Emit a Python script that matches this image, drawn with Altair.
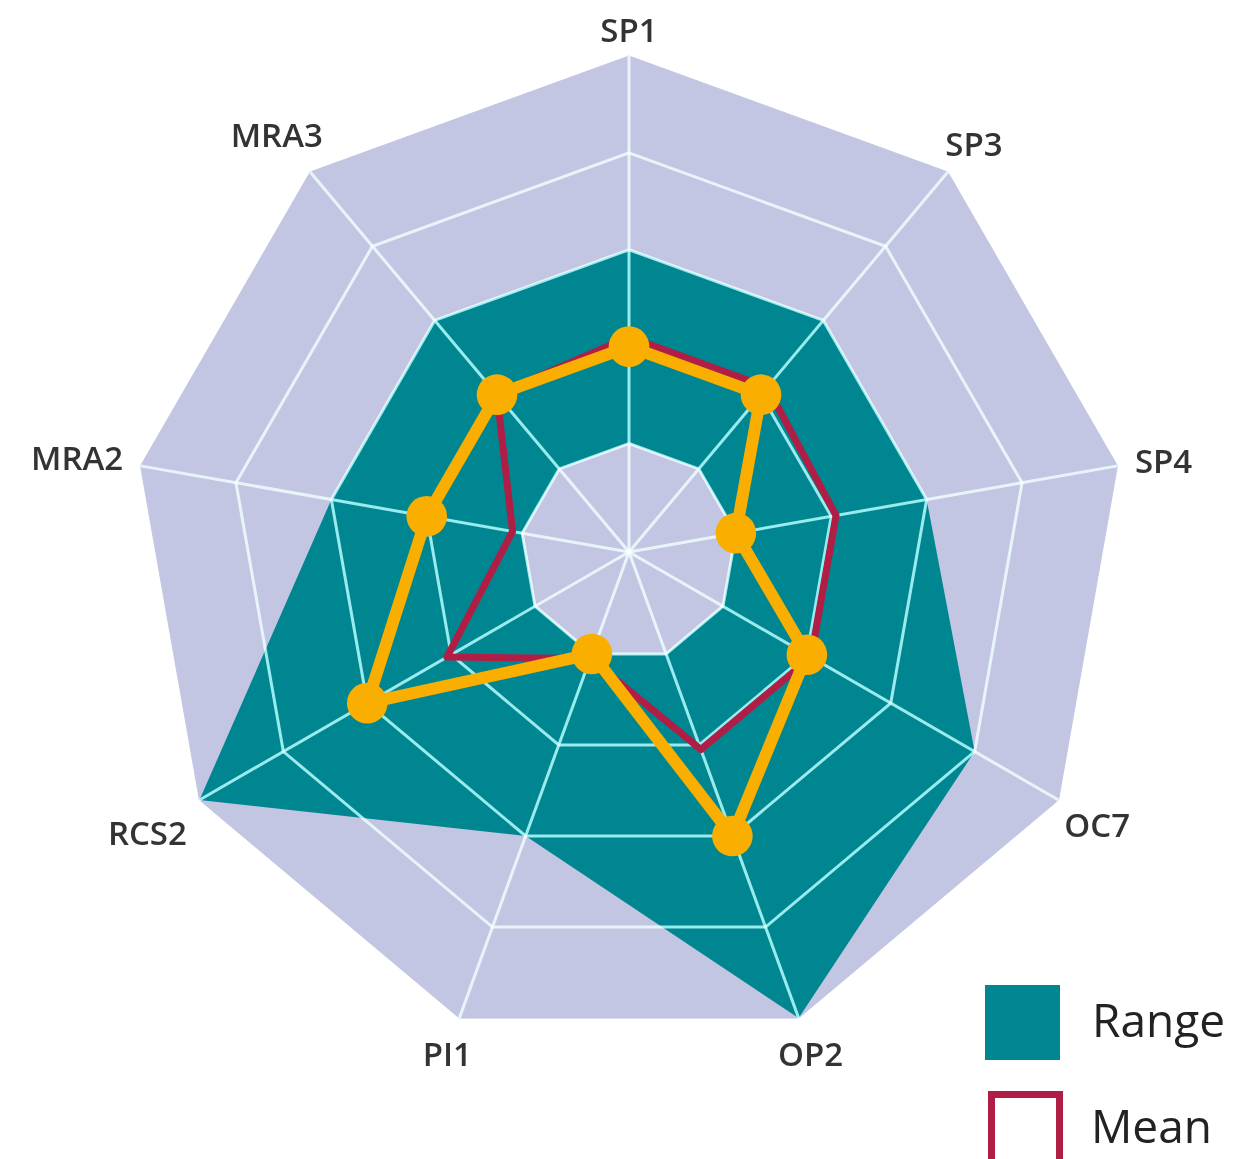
import altair as alt
import pandas as pd

# ---------------- data ----------------
categories = ["SP1", "SP3", "SP4", "OC7", "OP2", "PI1", "RCS2", "MRA2", "MRA3"]
range_min = [1, 1, 1, 1, 1, 1, 1, 1, 1]
range_max = [3, 3, 3, 4, 5, 3, 5, 3, 3]
mean_vals = [2.1, 2.1, 2.05, 2.05, 2.05, 1.05, 2.05, 1.1, 2.0]
score_vals = [2, 2, 1, 2, 3, 1, 3, 2, 2]
grid_levels = [1, 2, 3, 4]
scale_max = 5
scale_min = -0.12

legend_range = "Range"
legend_mean = "Mean"

# ---------------- style ----------------
TEAL = "#008691"
LAV = "#c3c6e2"
CRIMSON = "#b01e46"
ORANGE = "#f9ae00"
GRID = "#99d4d6"
LABEL = "#333333"
FONT = "Open Sans"

W, H = 1240, 1151
CX, CY, R = 621, 544, 496
XDOM = [-CX / R, (W - CX) / R]
YDOM = [-(H - CY) / R, CY / R]

n = len(categories)


def series_df(name, vals, **extra):
    d = pd.DataFrame({"cat": categories, "idx": list(range(n)), "value": vals, "series": name})
    for k, v in extra.items():
        d[k] = v
    return d


outer_df = series_df("outer", [scale_max] * n)
max_df = series_df(legend_range, range_max)
min_df = series_df("min", range_min)
mean_df = series_df(legend_mean, mean_vals)
score_df = series_df("score", score_vals)
grid_df = pd.concat([series_df("grid", [lv] * n, level=lv) for lv in grid_levels], ignore_index=True)
spoke_df = series_df("spoke", [scale_max] * n)
label_df = series_df("label", [scale_max] * n)


def polar(ch):
    return ch.transform_calculate(
        theta=f"PI/2 - datum.idx * 2 * PI / {n}",
        r=f"(datum.value - ({scale_min})) / ({scale_max} - ({scale_min}))",
    ).transform_calculate(
        px="datum.r * cos(datum.theta)",
        py="datum.r * sin(datum.theta)",
        cx="0",
        cy="0",
    )


def xs(field):
    return alt.X(field, scale=alt.Scale(domain=XDOM, nice=False, zero=False), axis=None)


def ys(field):
    return alt.Y(field, scale=alt.Scale(domain=YDOM, nice=False, zero=False), axis=None)


X = xs("px:Q")
Y = ys("py:Q")
ORD = alt.Order("idx:Q")

outer = polar(alt.Chart(outer_df)).mark_line(
    interpolate="linear-closed", fill=LAV, stroke=LAV, strokeWidth=1
).encode(x=X, y=Y, order=ORD)

rng = polar(alt.Chart(max_df)).mark_line(
    interpolate="linear-closed", strokeWidth=0
).encode(
    x=X, y=Y, order=ORD,
    fill=alt.Fill(
        "series:N",
        scale=alt.Scale(domain=[legend_range], range=[TEAL]),
        legend=alt.Legend(
            title=None, orient="none", legendX=977, legendY=977, padding=0,
            symbolType="square", symbolSize=5625, symbolStrokeWidth=0,
            symbolOpacity=1, labelFontSize=46, labelFont=FONT, labelColor="#222222",
            labelOffset=32,
        ),
    ),
)

inner = polar(alt.Chart(min_df)).mark_line(
    interpolate="linear-closed", fill=LAV, stroke=LAV, strokeWidth=1
).encode(x=X, y=Y, order=ORD)

rings = polar(alt.Chart(grid_df)).mark_line(
    interpolate="linear-closed", stroke=GRID, strokeWidth=3, blend="screen"
).encode(x=X, y=Y, order=ORD, detail="level:N")

spokes = polar(alt.Chart(spoke_df)).mark_rule(
    stroke=GRID, strokeWidth=3, blend="screen"
).encode(x=xs("cx:Q"), y=ys("cy:Q"), x2="px:Q", y2="py:Q")

mean = polar(alt.Chart(mean_df)).mark_line(
    interpolate="linear-closed", strokeWidth=7, strokeJoin="round"
).encode(
    x=X, y=Y, order=ORD,
    stroke=alt.Stroke(
        "series:N",
        scale=alt.Scale(domain=[legend_mean], range=[CRIMSON]),
        legend=alt.Legend(
            title=None, orient="none", legendX=980, legendY=1083, padding=0,
            symbolType="square", symbolSize=4624, symbolStrokeWidth=7,
            symbolFillColor="transparent", symbolOpacity=1,
            labelFontSize=46, labelFont=FONT, labelColor="#222222", labelOffset=28,
        ),
    ),
)

score_line = polar(alt.Chart(score_df)).mark_line(
    interpolate="linear-closed", stroke=ORANGE, strokeWidth=12, strokeJoin="round"
).encode(x=X, y=Y, order=ORD)

score_pts = polar(alt.Chart(score_df)).mark_circle(
    color=ORANGE, size=1650, opacity=1
).encode(x=X, y=Y)

labels = polar(alt.Chart(label_df)).transform_calculate(
    lr="1.058 + 0.037 * abs(cos(datum.theta)) + (length(datum.cat) - 3) * 0.036 * abs(cos(datum.theta))"
).transform_calculate(
    lx="datum.lr * cos(datum.theta)",
    ly="datum.lr * sin(datum.theta)",
).mark_text(
    font=FONT, fontSize=33, fontWeight=600, color=LABEL, align="center",
    baseline="middle", dy=5,
).encode(x=xs("lx:Q"), y=ys("ly:Q"), text="cat:N")

chart = alt.layer(
    outer, rng, inner, rings, spokes, mean, score_line, score_pts, labels
).properties(
    width=W, height=H, autosize=alt.AutoSizeParams(type="none"), padding=0,
    background="white",
).configure_view(stroke=None)

chart.save("out.html", embed_options={"renderer": "svg", "actions": False})
